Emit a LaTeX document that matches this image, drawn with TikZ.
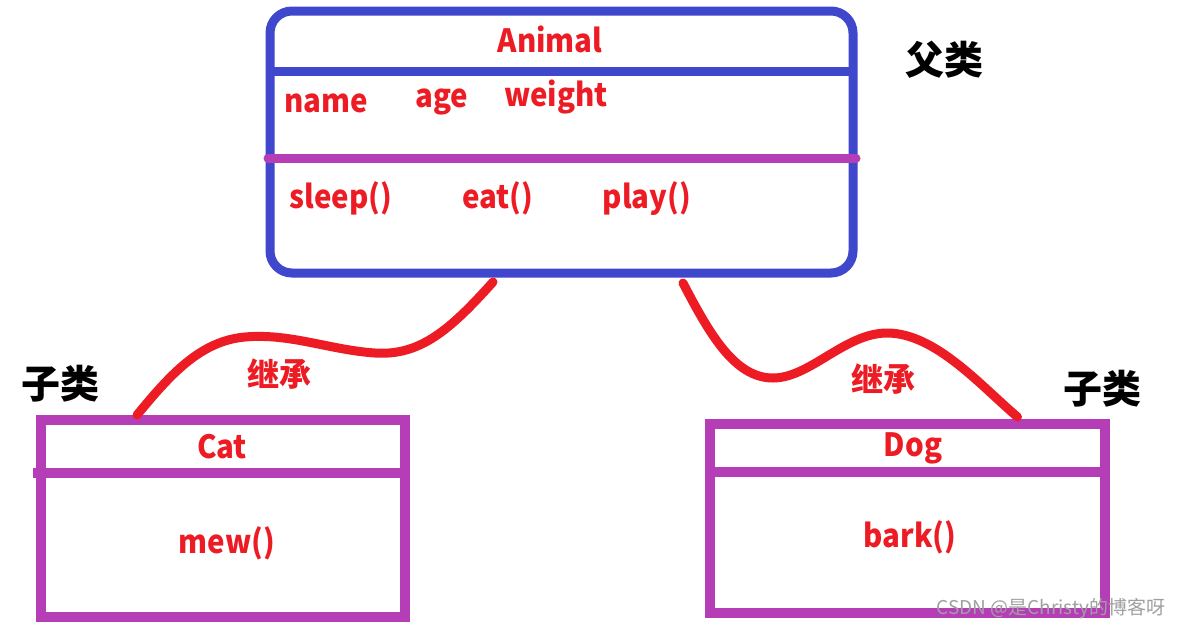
\documentclass[tikz,border=0pt]{standalone}
\usepackage{fontspec}
\setmainfont{Noto Sans CJK SC}
\newfontfamily\memberfont{Noto Sans CJK SC}[FakeStretch=0.92]
\usetikzlibrary{calc}
\definecolor{pblue}{RGB}{63,72,204}
\definecolor{ppurple}{RGB}{181,62,183}
\definecolor{pred}{RGB}{237,28,36}
\definecolor{wmgray}{RGB}{160,160,160}
\begin{document}
\begin{tikzpicture}[x=1pt,y=-1pt,
  parentbox/.style={draw=pblue, line width=9pt, rounded corners=22pt, inner sep=0pt, outer sep=0pt, minimum width=583pt, minimum height=262pt},
  childbox/.style={draw=ppurple, line width=10pt, inner sep=0pt, outer sep=0pt},
  member/.style={text=pred, font=\memberfont\fontsize{32}{40}\selectfont\bfseries, inner sep=0pt, anchor=base},
  tag/.style={text=black, font=\fontsize{39}{44}\selectfont\bfseries, inner sep=0pt},
  inh/.style={text=pred, font=\fontsize{32}{38}\selectfont\bfseries, inner sep=0pt},
  bond/.style={draw=pred, line width=9pt, line cap=round, line join=round},
  divider/.style={line width=9pt}
]
\useasboundingbox (0,0) rectangle (1182,630);
\fill[white] (0,0) rectangle (1182,630);

% parent class
\node[parentbox] (animal) at (561.5,142) {};
\draw[pblue, divider] ([yshift=71pt]animal.west) -- ([yshift=71pt]animal.east);
\draw[ppurple, divider, line cap=round] ([xshift=-2pt,yshift=-16pt]animal.west) -- ([xshift=3pt,yshift=-16pt]animal.east);

\node[member] (tAnimal) at (550,52) {Animal};
\node[member] (tname) at (326,112) {name};
\node[member] (tage) at (442,107) {age};
\node[member] (tweight) at (556,106) {weight};
\node[member] (tsleep) at (341,208) {sleep()};
\node[member] (teat) at (498,208) {eat()};
\node[member] (tplay) at (647,208) {play()};

% child classes
\node[childbox, minimum width=364pt, minimum height=197pt] (cat) at (223,518.5) {};
\draw[ppurple, line width=10pt] ([xshift=-8pt,yshift=45.5pt]cat.west) -- ([yshift=45.5pt]cat.east);
\node[member] (tCat) at (222,458) {Cat};
\node[member] (tmew) at (227,553) {mew()};

\node[childbox, minimum width=395pt, minimum height=189pt] (dog) at (907.5,518.5) {};
\draw[ppurple, line width=10pt] ([xshift=-5pt,yshift=46.5pt]dog.west) -- ([yshift=46.5pt]dog.east);
\node[member] (tDog) at (913,456) {Dog};
\node[member] (tbark) at (910,547) {bark()};

% labels
\node[tag] (fulei) at (944,60) {父类};
\node[tag] (zileiL) at (60,384) {子类};
\node[tag] (zileiR) at (1102,389) {子类};
\node[inh] (jcL) at (279,374) {继承};
\node[inh] (jcR) at (883,379) {继承};

% inheritance connectors
\coordinate (aL) at ([xshift=-68.5pt,yshift=-9pt]animal.south);
\coordinate (aR) at ([xshift=121.5pt,yshift=-10pt]animal.south);
\coordinate (cTop) at ([xshift=-86pt,yshift=5pt]cat.north);
\coordinate (dTop) at ([xshift=110pt,yshift=7pt]dog.north);
\draw[bond] (aL) .. controls (450,330) and (420,356) .. (375,353)
  .. controls (330,350) and (290,333) .. (245,337)
  .. controls (200,341) and (170,375) .. (cTop);
\draw[bond] (aR) .. controls (710,335) and (735,378) .. (773,378)
  .. controls (810,378) and (845,333) .. (887,333)
  .. controls (935,333) and (980,385) .. (dTop);

% watermark
\node[text=wmgray, font=\fontsize{19}{21}\selectfont, inner sep=0pt] (wm) at (1051,609) {CSDN @是Christy的博客呀};
\end{tikzpicture}
\end{document}
